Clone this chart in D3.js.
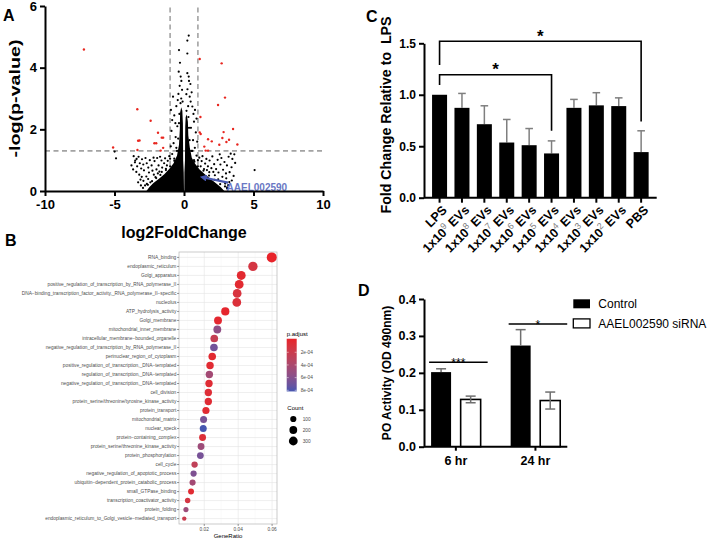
<!DOCTYPE html>
<html><head><meta charset="utf-8">
<script src="https://cdn.jsdelivr.net/npm/d3@7"></script>
<style>
body{margin:0;background:#fff}
svg{font-family:"Liberation Sans",Arial,Helvetica,sans-serif;display:block}
</style></head><body>
<svg id="c" width="708" height="539"></svg>
<script>
// ================= DATA =================
// Panel A: volcano plot
const foldThresholds = [-1, 1];
const pThreshold = 1.3;
const aXTicks = [-10, -5, 0, 5, 10];
const aYTicks = [0, 2, 4, 6];
// dense core of non-significant genes (outline)
const coreLeft = [[0,0],[-0.02,0.6],[-0.06,1.0],[-0.07,1.6],[-0.08,2.2],[-0.12,2.6],[-0.2,2.72],[-0.28,2.55],[-0.3,2.0],[-0.36,1.5],[-0.5,1.15],[-0.75,0.9],[-1.05,0.72],[-1.4,0.55],[-1.8,0.4],[-2.2,0.26],[-2.5,0.12],[-2.7,0]];
const coreRight = [[0.02,0],[0.03,0.6],[0.07,1.0],[0.08,1.6],[0.09,2.1],[0.12,2.4],[0.2,2.48],[0.28,2.25],[0.31,1.8],[0.42,1.4],[0.56,1.08],[0.8,0.88],[1.12,0.7],[1.5,0.54],[1.9,0.4],[2.3,0.25],[2.65,0.12],[2.9,0]];
const blackPoints = [
[0.34,5.04],[0.24,4.88],[-0.36,4.57],[0.24,4.46],[-0.29,4.16],[-0.38,3.87],[0.24,3.82],[-0.24,3.71],[0.34,3.71],[-0.19,3.57],[0.36,3.57],[0.46,3.47],[-0.31,3.41],[-0.14,3.28],[0.17,3.14],[-0.79,3.06],[0.41,3.06],[-0.2,3.0],[0.48,2.9],[-0.45,2.95],[-0.1,2.9],[0.6,2.74],[0.3,2.75],[-0.55,2.75],[-0.94,2.63],[0.79,2.63],[0.25,3.3],[0.55,3.2],[-0.4,3.15],[0.68,2.5],[-0.7,2.45],[-0.62,2.2],[0.72,2.25],[0.5,2.05],[-0.48,2.1],[-0.85,2.3],[0.9,2.35],[-0.9,1.95],[0.85,1.9],[-0.6,1.75],[0.65,1.65],[-0.75,1.55],[0.95,1.6],[-0.95,1.45],[0.78,1.4],[-0.55,1.4],[0.6,1.3],[-0.85,1.2],[0.9,1.15],[-1.0,1.05],[1.0,1.0],[-0.7,1.05],[0.72,1.0],
[-4.89,1.06],[-4.99,1.28],
[-3.62,1.13],[-3.41,1.04],[-3.27,1.11],[-3.53,0.93],[-3.18,0.9],[-3.02,1.03],[-3.37,0.8],[-3.66,0.7],[-3.08,0.73],[-2.93,0.86],[-2.77,1.07],[-2.68,0.9],[-2.88,0.67],[-2.57,0.76],[-2.46,1.0],[-2.52,0.6],[-2.33,0.83],[-2.27,0.66],[-3.22,0.53],[-3.04,0.46],[-2.71,0.47],[-2.92,0.33],[-3.13,0.37],[-2.58,0.39],[-2.12,0.97],[-1.98,0.7],[-1.93,1.07],[-1.83,0.83],[-1.77,0.63],[-1.62,0.99],[-1.57,0.76],[-1.43,0.9],[-1.36,1.06],[-1.23,0.83],[-1.17,0.98],[-2.17,0.53],[-1.88,0.57],[-3.78,0.83],[-3.43,0.62],[-2.67,0.23],[-2.42,0.28],[-3.51,0.99],[-2.19,1.08],[-1.72,1.11],[-1.06,1.13],[-2.05,0.45],[-1.6,0.62],[-1.3,0.72],[-2.8,0.18],[-3.3,0.28],
[1.1,1.08],[1.27,0.97],[1.33,1.13],[1.52,0.89],[1.61,1.04],[1.72,0.8],[1.84,0.99],[1.97,0.74],[2.04,1.12],[2.17,0.87],[2.31,0.71],[2.42,1.01],[2.48,0.6],[2.62,0.86],[2.69,1.07],[2.81,0.69],[2.91,0.94],[3.02,0.57],[3.09,0.83],[3.21,1.11],[3.28,0.61],[3.42,0.77],[3.48,1.04],[3.57,0.49],[3.68,0.91],[3.04,0.41],[2.76,0.46],[2.46,0.38],[2.22,0.51],[1.82,0.61],[3.44,0.34],[3.26,0.29],[2.96,0.24],[3.62,1.19],[3.36,1.21],[2.57,1.19],[1.44,0.71],[5.08,0.68],[3.18,0.19],[2.11,0.62],[1.2,0.8],[1.65,0.68],[3.1,0.12],
[-2.6,0.2],[-2.3,0.32],[-2.0,0.42],[-1.7,0.52],[-1.3,0.68],[-1.0,0.8],[-0.7,0.98],[-0.5,1.3],[-0.42,1.7],[-0.36,2.2],[-0.33,2.5],[2.6,0.22],[2.2,0.36],[1.8,0.5],[1.4,0.66],[1.0,0.8],[0.75,0.95],[0.52,1.3],[0.4,1.65],[0.36,2.05],[0.32,2.4],[-0.25,2.85],[0.18,2.6],
[-2.95,0.1],[-3.1,0.18],[3.1,0.08],[2.95,0.15]
];
const redPoints = [
[-7.2,4.59],[-3.36,2.65],[-2.4,2.28],[-1.87,1.89],[-1.6,1.73],[-1.5,1.73],[-3.3,1.63],[-3.2,1.64],[-2.13,1.55],[-2.0,1.55],[-5.1,1.41],[-3.35,1.33],[-1.5,1.4],[-1.68,1.31],
[1.13,4.28],[2.71,4.14],[2.95,3.03],[2.45,2.79],[1.18,2.4],[3.53,2.01],[2.85,1.91],[1.13,1.9],[1.2,1.85],[1.73,1.68],[2.0,1.61],[2.76,1.72],[3.24,1.66],[3.05,1.59],[3.84,1.51],[2.54,1.5],[1.46,1.44],[1.56,1.31],[1.73,1.31]
];
const highlightGene = "AAEL002590";
const highlightArrow = [[3.17,0.27],[1.49,0.43]];

// Panel B: GO enrichment dot plot
const goTerms = ["RNA_binding","endoplasmic_reticulum","Golgi_apparatus","positive_regulation_of_transcription_by_RNA_polymerase_II","DNA\u2212binding_transcription_factor_activity,_RNA_polymerase_II\u2212specific","nucleolus","ATP_hydrolysis_activity","Golgi_membrane","mitochondrial_inner_membrane","intracellular_membrane\u2212bounded_organelle","negative_regulation_of_transcription_by_RNA_polymerase_II","perinuclear_region_of_cytoplasm","positive_regulation_of_transcription,_DNA\u2212templated","regulation_of_transcription,_DNA\u2212templated","negative_regulation_of_transcription,_DNA\u2212templated","cell_division","protein_serine/threonine/tyrosine_kinase_activity","protein_transport","mitochondrial_matrix","nuclear_speck","protein\u2212containing_complex","protein_serine/threonine_kinase_activity","protein_phosphorylation","cell_cycle","negative_regulation_of_apoptotic_process","ubiquitin\u2212dependent_protein_catabolic_process","small_GTPase_binding","transcription_coactivator_activity","protein_folding","endoplasmic_reticulum_to_Golgi_vesicle\u2212mediated_transport"];
const geneRatio = [0.0598,0.0487,0.0418,0.0406,0.0394,0.0392,0.0324,0.0281,0.0277,0.0259,0.0257,0.0247,0.0234,0.0230,0.0228,0.0224,0.0224,0.0210,0.0196,0.0194,0.0190,0.0181,0.0177,0.0143,0.0137,0.0131,0.0122,0.0102,0.0092,0.0082];
const geneCount = [442,360,309,300,291,290,239,208,205,191,190,183,173,170,168,166,165,155,145,143,140,134,131,106,101,97,90,75,68,61];
const pAdjust = [0.00001,0.00015,0.00005,0.00005,0.00012,0.0001,0.00003,0.00004,0.00055,0.00025,0.00068,0.00005,0.00006,0.00045,0.00007,0.00008,0.00007,0.00006,0.00065,0.00081,0.00009,0.00048,0.00066,0.00028,0.00063,0.00045,0.00006,0.00015,0.00048,0.00022];
const bXTicks = [0.02, 0.04, 0.06];
const bXMinor = [0.01, 0.03, 0.05];
const pLegendTicks = [0.0002, 0.0004, 0.0006, 0.0008];
const pLegendLabels = ["2e-04","4e-04","6e-04","8e-04"];
const countLegend = [100, 200, 300];

// Panel C: fold change relative to LPS
const cCategories = ["LPS","1x10^9 EVs","1x10^8 EVs","1x10^7 EVs","1x10^6 EVs","1x10^5 EVs","1x10^4 EVs","1x10^3 EVs","1x10^2 EVs","PBS"];
const cMeans = [1.0,0.873,0.714,0.536,0.51,0.43,0.873,0.897,0.89,0.443];
const cErrors = [0,0.14,0.179,0.224,0.162,0.122,0.082,0.123,0.08,0.207];
const cYTicks = [0.0, 0.5, 1.0, 1.5];
const cBrackets = [
  {from:"LPS", to:"PBS", y:1.52, leftEnd:1.29, rightEnd:0.74, label:"*"},
  {from:"LPS", to:"1x10^5 EVs", y:1.195, leftEnd:1.095, rightEnd:0.65, label:"*"}
];

// Panel D: PO activity
const dGroups = ["6 hr","24 hr"];
const dSeries = ["Control","AAEL002590 siRNA"];
const dMeans = {"Control":[0.202,0.274], "AAEL002590 siRNA":[0.128,0.125]};
const dErrors = {"Control":[0.009,0.043], "AAEL002590 siRNA":[0.009,0.023]};
const dYTicks = [0.0,0.1,0.2,0.3,0.4];
const dSig = [{group:"6 hr", y:0.229, label:"***"},{group:"24 hr", y:0.332, label:"*"}];

// ================= DRAW =================
const svg = d3.select("#c");
function styleAxis(g, fs){
  g.select(".domain").attr("stroke","#000").attr("stroke-width",2);
  g.selectAll(".tick line").attr("stroke","#000").attr("stroke-width",2);
  g.selectAll(".tick text").attr("fill","#000").attr("font-weight","bold").attr("font-size",fs)
   .attr("font-family",'"Liberation Sans",Arial,sans-serif');
}
function panelLetter(t,x,y){
  svg.append("text").attr("x",x).attr("y",y).attr("font-size",16).attr("font-weight","bold").text(t);
}

// ----- Panel A -----
{
  const g = svg.append("g");
  const ax = d3.scaleLinear().domain([-10,10]).range([45,323]);
  const ay = d3.scaleLinear().domain([0,6]).range([191,6]);
  g.selectAll(".vth").data(foldThresholds).join("line")
    .attr("x1",d=>ax(d)).attr("x2",d=>ax(d)).attr("y1",ay(0)).attr("y2",ay(6))
    .attr("stroke","#a3a3a3").attr("stroke-width",1.6).attr("stroke-dasharray","5,3.5");
  g.append("line").attr("x1",ax(-10)).attr("x2",ax(10)).attr("y1",ay(pThreshold)).attr("y2",ay(pThreshold))
    .attr("stroke","#a3a3a3").attr("stroke-width",1.6).attr("stroke-dasharray","5,3.5");
  const line = d3.line().x(d=>ax(d[0])).y(d=>ay(d[1])).curve(d3.curveLinearClosed);
  g.selectAll(".core").data([coreLeft, coreRight]).join("path").attr("d",line).attr("fill","#000");
  g.selectAll(".bp").data(blackPoints).join("circle")
    .attr("cx",d=>ax(d[0])).attr("cy",d=>ay(d[1])).attr("r",1.1).attr("fill","#000");
  g.selectAll(".rp").data(redPoints).join("circle")
    .attr("cx",d=>ax(d[0])).attr("cy",d=>ay(d[1])).attr("r",1.2).attr("fill","#e8261f");
  // arrow
  const defs = svg.append("defs");
  defs.append("marker").attr("id","ah").attr("viewBox","0 0 10 10").attr("refX",3).attr("refY",5)
    .attr("markerWidth",3.2).attr("markerHeight",3.2).attr("orient","auto")
    .append("path").attr("d","M0,0L10,5L0,10z").attr("fill","#4757b0");
  g.append("line").attr("x1",ax(highlightArrow[0][0])).attr("y1",ay(highlightArrow[0][1]))
    .attr("x2",ax(highlightArrow[1][0])).attr("y2",ay(highlightArrow[1][1]))
    .attr("stroke","#4757b0").attr("stroke-width",2.2).attr("marker-end","url(#ah)");
  g.append("text").attr("x",ax(highlightArrow[0][0])-1.5).attr("y",190.5).attr("font-size",10)
    .attr("font-weight","bold").attr("fill","#6a78c4").text(highlightGene);
  g.append("g").attr("transform",`translate(${ax(-10)},0)`)
    .call(d3.axisLeft(ay).tickValues(aYTicks).tickSize(5).tickSizeOuter(0).tickPadding(3).tickFormat(d=>String(d)))
    .call(a=>styleAxis(a,13));
  g.append("g").attr("transform",`translate(0,${ay(0)})`)
    .call(d3.axisBottom(ax).tickValues(aXTicks).tickSize(5).tickSizeOuter(0).tickPadding(4).tickFormat(d=>String(d)))
    .call(a=>styleAxis(a,13));
  g.append("text").attr("x",ax(0)).attr("y",238).attr("text-anchor","middle").attr("font-size",16)
    .attr("font-weight","bold").text("log2FoldChange");
  g.append("text").attr("transform",`translate(20,${ay(3.0)}) rotate(-90)`).attr("text-anchor","middle")
    .attr("font-size",14.5).attr("font-weight","bold").attr("textLength",118).attr("lengthAdjust","spacingAndGlyphs")
    .text("-log(p-value)");
  panelLetter("A",3,20.7);
}

// ----- Panel B -----
{
  const g = svg.append("g");
  const bx = d3.scaleLinear().domain([0.0051,0.0629]).range([179,277]);
  const by = d3.scalePoint().domain(goTerms).range([252,524]).padding(0.6);
  const pMin = d3.min(pAdjust), pMax = d3.max(pAdjust);
  const color = d3.scaleLinear().domain([pMin,pMax]).range(["#e8232a","#4656b0"]).interpolate(d3.interpolateLab);
  const cMin = d3.min(geneCount), cMax = d3.max(geneCount);
  const sT = d3.scaleLinear().domain([cMin,cMax]).range([0,1]);
  const rS = d3.scaleLinear().domain([0,1]).range([2.2,5]);
  const rad = c=>rS(Math.sqrt(Math.max(0,sT(c))));
  g.append("rect").attr("x",179).attr("y",252).attr("width",98).attr("height",272).attr("fill","#fff");
  g.selectAll(".gmin").data(bXMinor).join("line").attr("x1",d=>bx(d)).attr("x2",d=>bx(d)).attr("y1",252).attr("y2",524)
    .attr("stroke","#f2f2f2").attr("stroke-width",0.35);
  g.selectAll(".gmaj").data(bXTicks).join("line").attr("x1",d=>bx(d)).attr("x2",d=>bx(d)).attr("y1",252).attr("y2",524)
    .attr("stroke","#e4e4e4").attr("stroke-width",0.6);
  g.selectAll(".gy").data(goTerms).join("line").attr("x1",179).attr("x2",277).attr("y1",d=>by(d)).attr("y2",d=>by(d))
    .attr("stroke","#e4e4e4").attr("stroke-width",0.6);
  g.append("rect").attr("x",179).attr("y",252).attr("width",98).attr("height",272).attr("fill","none")
    .attr("stroke","#b5b5b5").attr("stroke-width",0.7);
  const rows = goTerms.map((t,i)=>({t, gr:geneRatio[i], n:geneCount[i], p:pAdjust[i]}));
  g.selectAll(".dot").data(rows).join("circle").attr("cx",d=>bx(d.gr)).attr("cy",d=>by(d.t))
    .attr("r",d=>rad(d.n)).attr("fill",d=>color(d.p));
  g.selectAll(".yl").data(goTerms).join("text").attr("x",176.3).attr("y",d=>by(d)).attr("dy","0.35em")
    .attr("text-anchor","end").attr("font-size",4.8).attr("fill","#4d4d4d").text(d=>d);
  g.selectAll(".yt").data(goTerms).join("line").attr("x1",177).attr("x2",179).attr("y1",d=>by(d)).attr("y2",d=>by(d))
    .attr("stroke","#333").attr("stroke-width",0.5);
  g.selectAll(".xt").data(bXTicks).join("line").attr("x1",d=>bx(d)).attr("x2",d=>bx(d)).attr("y1",524).attr("y2",526)
    .attr("stroke","#333").attr("stroke-width",0.5);
  g.selectAll(".xl").data(bXTicks).join("text").attr("x",d=>bx(d)).attr("y",530.8).attr("text-anchor","middle")
    .attr("font-size",4.8).attr("fill","#4d4d4d").text(d=>d3.format(".2f")(d));
  g.append("text").attr("x",228).attr("y",537.5).attr("text-anchor","middle").attr("font-size",6).text("GeneRatio");
  panelLetter("B",5,246);
  // legend: p.adjust
  const pY = d3.scaleLinear().domain([0,0.0008]).range([339.6,390.3]);
  g.append("text").attr("x",286.7).attr("y",335.5).attr("font-size",6).text("p.adjust");
  const grad = svg.append("defs").append("linearGradient").attr("id","pg").attr("x1",0).attr("x2",0).attr("y1",0).attr("y2",1);
  d3.range(11).forEach(i=>{ grad.append("stop").attr("offset",i/10).attr("stop-color",color(pMin+(pMax-pMin)*i/10)); });
  g.append("rect").attr("x",286.7).attr("y",pY(pMin)-1.5).attr("width",10).attr("height",pY(pMax)-pY(pMin)+2).attr("fill","url(#pg)");
  pLegendTicks.forEach((v,i)=>{
    g.append("line").attr("x1",286.7).attr("x2",288.7).attr("y1",pY(v)).attr("y2",pY(v)).attr("stroke","#fff").attr("stroke-width",0.5);
    g.append("line").attr("x1",294.7).attr("x2",296.7).attr("y1",pY(v)).attr("y2",pY(v)).attr("stroke","#fff").attr("stroke-width",0.5);
    g.append("text").attr("x",300.7).attr("y",pY(v)).attr("dy","0.35em").attr("font-size",4.8).attr("fill","#4d4d4d").text(pLegendLabels[i]);
  });
  // legend: Count
  g.append("text").attr("x",287.3).attr("y",410).attr("font-size",6).text("Count");
  const cy0 = d3.scalePoint().domain(countLegend).range([419,441]);
  g.selectAll(".cl").data(countLegend).join("circle").attr("cx",293.3).attr("cy",d=>cy0(d)).attr("r",d=>rad(d)).attr("fill","#000");
  g.selectAll(".clt").data(countLegend).join("text").attr("x",302.7).attr("y",d=>cy0(d)).attr("dy","0.35em")
    .attr("font-size",4.8).attr("fill","#4d4d4d").text(d=>d);
}

// ----- Panel C -----
{
  const g = svg.append("g");
  const cx = d3.scaleBand().domain(cCategories).range([424,656.7]).paddingInner(0.33).paddingOuter(0.36);
  const cy = d3.scaleLinear().domain([0,1.5]).range([197.7,43.3]);
  const mid = d=>cx(d)+cx.bandwidth()/2;
  const data = cCategories.map((c,i)=>({c, m:cMeans[i], e:cErrors[i]}));
  const eb = data.filter(d=>d.e>0);
  g.selectAll(".ev").data(eb).join("line").attr("x1",d=>mid(d.c)).attr("x2",d=>mid(d.c))
    .attr("y1",d=>cy(d.m)).attr("y2",d=>cy(d.m+d.e)).attr("stroke","#7f7f7f").attr("stroke-width",1.5);
  g.selectAll(".ec").data(eb).join("line").attr("x1",d=>mid(d.c)-3.8).attr("x2",d=>mid(d.c)+3.8)
    .attr("y1",d=>cy(d.m+d.e)).attr("y2",d=>cy(d.m+d.e)).attr("stroke","#7f7f7f").attr("stroke-width",1.5);
  g.selectAll(".bar").data(data).join("rect").attr("x",d=>cx(d.c)).attr("width",cx.bandwidth())
    .attr("y",d=>cy(d.m)).attr("height",d=>cy(0)-cy(d.m)).attr("fill","#000");
  cBrackets.forEach(b=>{
    const x1 = mid(b.from), x2 = mid(b.to);
    g.append("path").attr("d",`M${x1},${cy(b.leftEnd)}V${cy(b.y)}H${x2}V${cy(b.rightEnd)}`)
      .attr("fill","none").attr("stroke","#000").attr("stroke-width",1.6);
    g.append("text").attr("x",(x1+x2)/2).attr("y",cy(b.y)+0.5).attr("text-anchor","middle")
      .attr("font-size",17).attr("font-weight","bold").text(b.label);
  });
  g.append("g").attr("transform",`translate(424,0)`)
    .call(d3.axisLeft(cy).tickValues(cYTicks).tickSize(5).tickSizeOuter(0).tickPadding(3).tickFormat(d3.format(".1f")))
    .call(a=>styleAxis(a,12));
  const xa = g.append("g").attr("transform",`translate(0,${cy(0)})`)
    .call(d3.axisBottom(cx).tickSize(5).tickSizeOuter(0).tickFormat(""))
    .call(a=>styleAxis(a,12));
  xa.select(".domain").attr("d",`M424,0H656.7`);
  const lab = g.selectAll(".cxl").data(cCategories).join("text")
    .attr("transform",d=>`translate(${mid(d)+5},${cy(0)+10}) rotate(-45)`)
    .attr("text-anchor","end").attr("dy","0.35em").attr("font-size",12.5).attr("font-weight","bold");
  lab.each(function(d){
    const t = d3.select(this);
    const m = d.match(/^(.*?)\^(\d+)(.*)$/);
    if(!m){ t.text(d); return; }
    t.append("tspan").text(m[1]);
    t.append("tspan").attr("dy",-5).attr("font-size",9).attr("font-weight","normal").attr("fill","#808080").text(m[2]);
    t.append("tspan").attr("dy",5).text(m[3]);
  });
  g.append("text").attr("transform",`translate(391,115) rotate(-90)`).attr("text-anchor","middle")
    .attr("font-size",14.2).attr("font-weight","bold").attr("xml:space","preserve").text("Fold Change Relative to  LPS");
  panelLetter("C",366,22);
}

// ----- Panel D -----
{
  const g = svg.append("g");
  const gx = d3.scaleBand().domain(dGroups).range([424,567.3]).paddingInner(0.377).paddingOuter(0.089);
  const sx = d3.scaleBand().domain(dSeries).range([0,gx.bandwidth()]).paddingInner(0.324);
  const dy = d3.scaleLinear().domain([0,0.4]).range([446.7,299]);
  const rows = [];
  dSeries.forEach(s=>dGroups.forEach((gr,i)=>rows.push({s, gr, m:dMeans[s][i], e:dErrors[s][i]})));
  const bx = d=>gx(d.gr)+sx(d.s), bm = d=>bx(d)+sx.bandwidth()/2;
  g.selectAll(".bar").data(rows).join("rect").attr("x",bx).attr("width",sx.bandwidth())
    .attr("y",d=>dy(d.m)).attr("height",d=>dy(0)-dy(d.m))
    .attr("fill",d=>d.s==="Control"?"#000":"#fff").attr("stroke","#000").attr("stroke-width",d=>d.s==="Control"?0:1.6);
  const low = d=>d.s==="Control"?d.m:d.m-d.e;
  g.selectAll(".ev").data(rows).join("line").attr("x1",bm).attr("x2",bm).attr("y1",d=>dy(low(d))).attr("y2",d=>dy(d.m+d.e))
    .attr("stroke","#6f6f6f").attr("stroke-width",1.5);
  g.selectAll(".ecu").data(rows).join("line").attr("x1",d=>bm(d)-5).attr("x2",d=>bm(d)+5).attr("y1",d=>dy(d.m+d.e)).attr("y2",d=>dy(d.m+d.e))
    .attr("stroke","#6f6f6f").attr("stroke-width",1.5);
  g.selectAll(".ecl").data(rows.filter(d=>d.s!=="Control")).join("line").attr("x1",d=>bm(d)-5).attr("x2",d=>bm(d)+5).attr("y1",d=>dy(d.m-d.e)).attr("y2",d=>dy(d.m-d.e))
    .attr("stroke","#6f6f6f").attr("stroke-width",1.5);
  dSig.forEach(s=>{
    const x1 = gx(s.group)-2, x2 = gx(s.group)+gx.bandwidth()+7;
    g.append("line").attr("x1",x1).attr("x2",x2).attr("y1",dy(s.y)).attr("y2",dy(s.y)).attr("stroke","#000").attr("stroke-width",1.5);
    g.append("text").attr("x",(x1+x2)/2).attr("y",dy(s.y)+4.5).attr("text-anchor","middle").attr("font-size",12).text(s.label);
  });
  g.append("g").attr("transform",`translate(424,0)`)
    .call(d3.axisLeft(dy).tickValues(dYTicks).tickSize(5).tickSizeOuter(0).tickPadding(3).tickFormat(d3.format(".1f")))
    .call(a=>styleAxis(a,12.5));
  const xa = g.append("g").attr("transform",`translate(0,${dy(0)})`)
    .call(d3.axisBottom(gx).tickSize(4).tickSizeOuter(0).tickPadding(5))
    .call(a=>styleAxis(a,12.5));
  xa.select(".domain").attr("d",`M424,0H567.3`);
  g.append("text").attr("transform",`translate(391,373) rotate(-90)`).attr("text-anchor","middle")
    .attr("font-size",12).attr("font-weight","bold").text("PO Activity (OD 490nm)");
  const ly = d3.scalePoint().domain(dSeries).range([303.8,323.4]);
  g.selectAll(".lr").data(dSeries).join("rect").attr("x",573.3).attr("y",d=>ly(d)-4.5).attr("width",16.7).attr("height",9)
    .attr("fill",(d,i)=>i===0?"#000":"#fff").attr("stroke","#000").attr("stroke-width",(d,i)=>i===0?0:1.3);
  g.selectAll(".lt").data(dSeries).join("text").attr("x",598.3).attr("y",d=>ly(d)).attr("dy","0.36em")
    .attr("font-size",12).text(d=>d);
  panelLetter("D",358,296);
}
</script>
</body></html>
